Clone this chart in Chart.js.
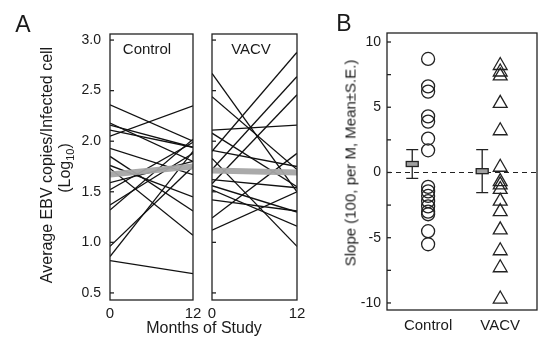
<!DOCTYPE html>
<html>
<head>
<meta charset="utf-8">
<script src="https://cdn.jsdelivr.net/npm/chart.js"></script>
<style>
  body { margin: 0; background: #fff; }
  #wrap { position: relative; width: 540px; height: 339px; font-family: "Liberation Sans", Arial, sans-serif; color: #1a1a1a; }
  canvas { position: absolute; left: 0; top: 0; }
  .lbl { position: absolute; white-space: nowrap; transform: translate(-50%, -50%); }
  .rot { transform: translate(-50%, -50%) rotate(-90deg); }
</style>
</head>
<body>
<div id="wrap">
  <canvas id="cA1" width="540" height="339"></canvas>
  <canvas id="cA2" width="540" height="339"></canvas>
  <canvas id="cB" width="540" height="339"></canvas>
  <div class="lbl" style="left:23px;top:24px;font-size:23px;">A</div>
  <div class="lbl" style="left:344px;top:23px;font-size:23px;">B</div>
  <div class="lbl rot" style="left:47px;top:165px;font-size:16px;">Average EBV copies/Infected cell</div>
  <div class="lbl rot" style="left:66px;top:168px;font-size:16px;">(Log<sub style="font-size:11px;">10</sub>)</div>
  <div class="lbl" style="left:147px;top:48px;font-size:15px;">Control</div>
  <div class="lbl" style="left:251px;top:48px;font-size:15px;">VACV</div>
  <div class="lbl" style="left:204px;top:328px;font-size:16px;">Months of Study</div>
  <div class="lbl rot" style="left:350px;top:163px;font-size:15px;">Slope (100, per M, Mean±S.E.)</div>
</div>
<script>
// panel A: log10 copies at month 0 and month 12
const months = [0, 12];
const controlStart = [0.86, 0.96, 1.32, 1.37, 1.52, 2.05, 1.59, 0.82, 2.11, 2.16, 1.93, 1.76, 2.36, 2.18, 1.85, 1.73];
const controlEnd   = [1.90, 1.75, 2.02, 1.88, 1.99, 2.35, 1.80, 0.69, 1.94, 1.94, 1.67, 1.45, 2.00, 1.80, 1.31, 1.07];
const controlMean  = [1.67, 1.75];
const vacvStart = [1.90, 1.72, 1.58, 1.24, 1.12, 2.11, 1.62, 1.42, 1.91, 1.56, 1.52, 2.08, 2.44, 1.83, 2.67];
const vacvEnd   = [2.88, 2.64, 2.46, 1.88, 1.50, 2.16, 1.54, 1.31, 1.75, 1.30, 1.16, 1.55, 1.72, 0.96, 1.50];
const vacvMean  = [1.71, 1.69];
const aTicks = [0.5, 1.0, 1.5, 2.0, 2.5, 3.0];

// panel B: slopes
const groups = ['Control', 'VACV'];
const controlSlopes = [8.7, 6.6, 6.2, 4.3, 3.9, 2.6, 1.7, -1.1, -1.45, -1.8, -2.2, -2.6, -3.0, -3.2, -4.5, -5.5];
const vacvSlopes = [8.2, 7.7, 7.4, 5.3, 3.2, 0.4, -0.7, -0.95, -1.3, -2.2, -3.0, -4.4, -6.0, -7.3, -9.7];
const slopeMean = [0.65, 0.1];
const slopeSE = [1.1, 1.65];
const bTicks = [-10, -7.5, -5, -2.5, 0, 2.5, 5, 7.5, 10];

Chart.defaults.font.family = '"Liberation Sans", Arial, sans-serif';
Chart.defaults.color = '#1a1a1a';

const frame = {
  id: 'frame',
  afterDatasetsDraw(chart) {
    const ctx = chart.ctx, a = chart.chartArea, y = chart.scales.y;
    ctx.save();
    ctx.strokeStyle = '#222';
    ctx.lineWidth = 1.3;
    ctx.strokeRect(a.left, a.top, a.right - a.left, a.bottom - a.top);
    y.ticks.forEach(t => {
      const py = y.getPixelForValue(t.value);
      ctx.beginPath();
      ctx.moveTo(a.left, py);
      ctx.lineTo(a.left + 4, py);
      ctx.stroke();
    });
    ctx.restore();
  }
};

function lineSets(starts, ends, mean) {
  const sets = starts.map((s, i) => ({
    data: [{x: months[0], y: s}, {x: months[1], y: ends[i]}],
    borderColor: '#111', borderWidth: 1.3, pointRadius: 0, order: 1
  }));
  sets.push({
    data: [{x: months[0], y: mean[0]}, {x: months[1], y: mean[1]}],
    borderColor: 'rgba(165,165,165,0.95)', borderWidth: 6, pointRadius: 0, order: 0
  });
  return sets;
}

function panelA(id, starts, ends, mean, padLeft, padRight, showY) {
  new Chart(document.getElementById(id), {
    type: 'line',
    data: { datasets: lineSets(starts, ends, mean) },
    options: {
      responsive: false, animation: false,
      layout: { autoPadding: false, padding: { left: padLeft, top: 34, right: padRight, bottom: 7 } },
      plugins: { legend: { display: false }, tooltip: { enabled: false } },
      scales: {
        x: {
          type: 'linear', min: 0, max: 12,
          afterBuildTicks: s => { s.ticks = months.map(v => ({ value: v })); },
          afterFit: s => { s.height = 32; },
          grid: { display: false, drawTicks: false }, border: { display: false },
          ticks: { font: { size: 15 }, padding: 5, maxRotation: 0 }
        },
        y: {
          min: 0.43, max: 3.06,
          afterBuildTicks: s => { s.ticks = aTicks.map(v => ({ value: v })); },
          afterFit: s => { s.width = 40; },
          grid: { display: false, drawTicks: false }, border: { display: false },
          ticks: { display: showY, font: { size: 14 }, padding: 9, callback: v => v.toFixed(1) }
        }
      }
    },
    plugins: [frame]
  });
}

panelA('cA1', controlStart, controlEnd, controlMean, 70, 540 - 193, true);
panelA('cA2', vacvStart, vacvEnd, vacvMean, 172, 540 - 297, false);

const groupX = [1, 2];
const barOffset = [0.22, 0.25];

const errBars = {
  id: 'errBars',
  afterDatasetsDraw(chart) {
    const ctx = chart.ctx, x = chart.scales.x, y = chart.scales.y;
    ctx.save();
    ctx.strokeStyle = '#222';
    ctx.lineWidth = 1.3;
    groupX.forEach((g, i) => {
      const px = x.getPixelForValue(g - barOffset[i]);
      const top = y.getPixelForValue(slopeMean[i] + slopeSE[i]);
      const bot = y.getPixelForValue(slopeMean[i] - slopeSE[i]);
      const my = y.getPixelForValue(slopeMean[i]);
      ctx.beginPath();
      ctx.moveTo(px, top); ctx.lineTo(px, bot);
      ctx.moveTo(px - 6, top); ctx.lineTo(px + 6, top);
      ctx.moveTo(px - 6, bot); ctx.lineTo(px + 6, bot);
      ctx.stroke();
      ctx.fillStyle = '#a0a0a0';
      ctx.fillRect(px - 6, my - 2.5, 12, 5);
      ctx.strokeRect(px - 6, my - 2.5, 12, 5);
    });
    ctx.restore();
  }
};

new Chart(document.getElementById('cB'), {
  type: 'scatter',
  data: {
    datasets: [
      {
        data: controlSlopes.map(v => ({ x: groupX[0], y: v })),
        pointStyle: 'circle', pointRadius: 6.5, borderColor: '#222', borderWidth: 1.3,
        backgroundColor: 'rgba(0,0,0,0)'
      },
      {
        data: vacvSlopes.map(v => ({ x: groupX[1], y: v })),
        pointStyle: 'triangle', pointRadius: 8, borderColor: '#222', borderWidth: 1.3,
        backgroundColor: 'rgba(0,0,0,0)'
      },
      {
        type: 'line',
        data: [{ x: 0.43, y: 0 }, { x: 2.51, y: 0 }],
        borderColor: '#222', borderWidth: 1.2, borderDash: [5, 4], pointRadius: 0
      }
    ]
  },
  options: {
    responsive: false, animation: false,
    layout: { autoPadding: false, padding: { left: 347, top: 33, right: 3, bottom: 1 } },
    plugins: { legend: { display: false }, tooltip: { enabled: false } },
    scales: {
      x: {
        type: 'linear', min: 0.43, max: 2.51,
        afterBuildTicks: s => { s.ticks = groupX.map(v => ({ value: v })); },
        afterFit: s => { s.height = 28; },
        grid: { display: false, drawTicks: false }, border: { display: false },
        ticks: { font: { size: 15 }, padding: 7, maxRotation: 0, callback: v => groups[groupX.indexOf(v)] }
      },
      y: {
        min: -10.54, max: 10.69,
        afterBuildTicks: s => { s.ticks = bTicks.map(v => ({ value: v })); },
        afterFit: s => { s.width = 40; },
        grid: { display: false, drawTicks: false }, border: { display: false },
        ticks: { font: { size: 14 }, padding: 6, callback: v => (v % 5 === 0 ? String(v) : '') }
      }
    }
  },
  plugins: [frame, errBars]
});
</script>
</body>
</html>
